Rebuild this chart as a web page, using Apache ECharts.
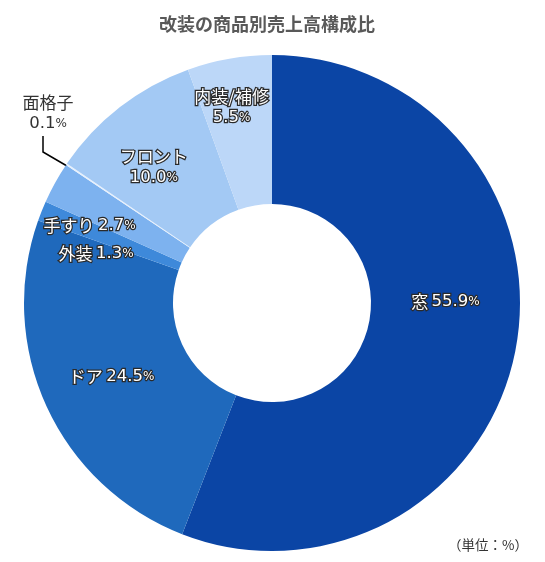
<!DOCTYPE html>
<html>
<head>
<meta charset="utf-8">
<script src="https://cdn.jsdelivr.net/npm/echarts@6/dist/echarts.min.js"></script>
<style>
  html, body { margin: 0; padding: 0; background: #fff; }
  #main { width: 545px; height: 562px; }
</style>
</head>
<body>
<div id="main"></div>
<script>
var categories = ['窓', 'ドア', '外装', '手すり', '面格子', 'フロント', '内装/補修'];
var shares = [55.9, 24.5, 1.3, 2.7, 0.1, 10.0, 5.5];
var colors = ['#0b45a5', '#1f69bc', '#3e89da', '#7db2ef', '#e6f0fc', '#a3c9f4', '#bcd7f8'];
var twoLine = ['フロント', '内装/補修', '面格子'];

var chart = echarts.init(document.getElementById('main'));
var cjk = '"Noto Sans CJK JP", sans-serif';
var num = '"DejaVu Sans", "Noto Sans CJK JP", sans-serif';

function richSet(fill, border, bw) {
    return {
        n: { fontSize: 17, fontFamily: cjk, color: fill, textBorderColor: border, textBorderWidth: bw, lineHeight: 21 },
        p: { fontSize: 16.5, fontFamily: num, color: fill, textBorderColor: border, textBorderWidth: bw, lineHeight: 21 },
        s: { fontSize: 12, fontFamily: num, color: fill, textBorderColor: border, textBorderWidth: bw, lineHeight: 21 }
    };
}

var pieData = categories.map(function (name, i) {
    var item = { name: name, value: shares[i], itemStyle: { color: colors[i] } };
    if (name === '面格子') {
        item.label = {
            position: 'outside',
            overflow: 'none',
            align: 'center',
            color: '#333',
            textBorderWidth: 0,
            rich: richSet('#333', 'transparent', 0)
        };
        item.labelLine = { show: true, lineStyle: { color: '#000', width: 1.5 } };
    }
    return item;
});

var option = {
    backgroundColor: '#fff',
    title: {
        text: '改装の商品別売上高構成比',
        left: 154,
        top: 10,
        textStyle: { fontFamily: cjk, fontSize: 18, fontWeight: 'bold', color: '#595959' }
    },
    graphic: [{
        type: 'text',
        right: 17,
        top: 538,
        style: { text: '（単位：%）', fontFamily: cjk, fontSize: 13.5, fill: '#333' }
    }],
    series: [{
        type: 'pie',
        center: [272, 303],
        radius: [99, 248],
        startAngle: 90,
        clockwise: true,
        animation: false,
        silent: true,
        data: pieData,
        label: {
            show: true,
            position: 'inside',
            formatter: function (p) {
                var sep = twoLine.indexOf(p.name) >= 0 ? '\n' : ' ';
                return '{n|' + p.name + '}' + sep + '{p|' + p.value.toFixed(1) + '}{s|%}';
            },
            rich: richSet('#fff', '#2a2a2a', 2.5)
        },
        labelLayout: function (params) {
            var i = params.dataIndex;
            if (i === 4) {
                return {
                    x: 48, y: 113, align: 'center', verticalAlign: 'middle',
                    labelLinePoints: [[67, 166], [43, 152], [43, 136]]
                };
            }
            if (i === 0) return { dy: -34 };
            if (i === 3) return { dx: -28, dy: 8 };
            if (i === 2) return { dx: -12, dy: 16 };
            if (i === 5) return { dx: -10, dy: 4 };
            if (i === 6) return { dx: -10, dy: -22 };
        }
    }]
};
chart.setOption(option);
</script>
</body>
</html>
